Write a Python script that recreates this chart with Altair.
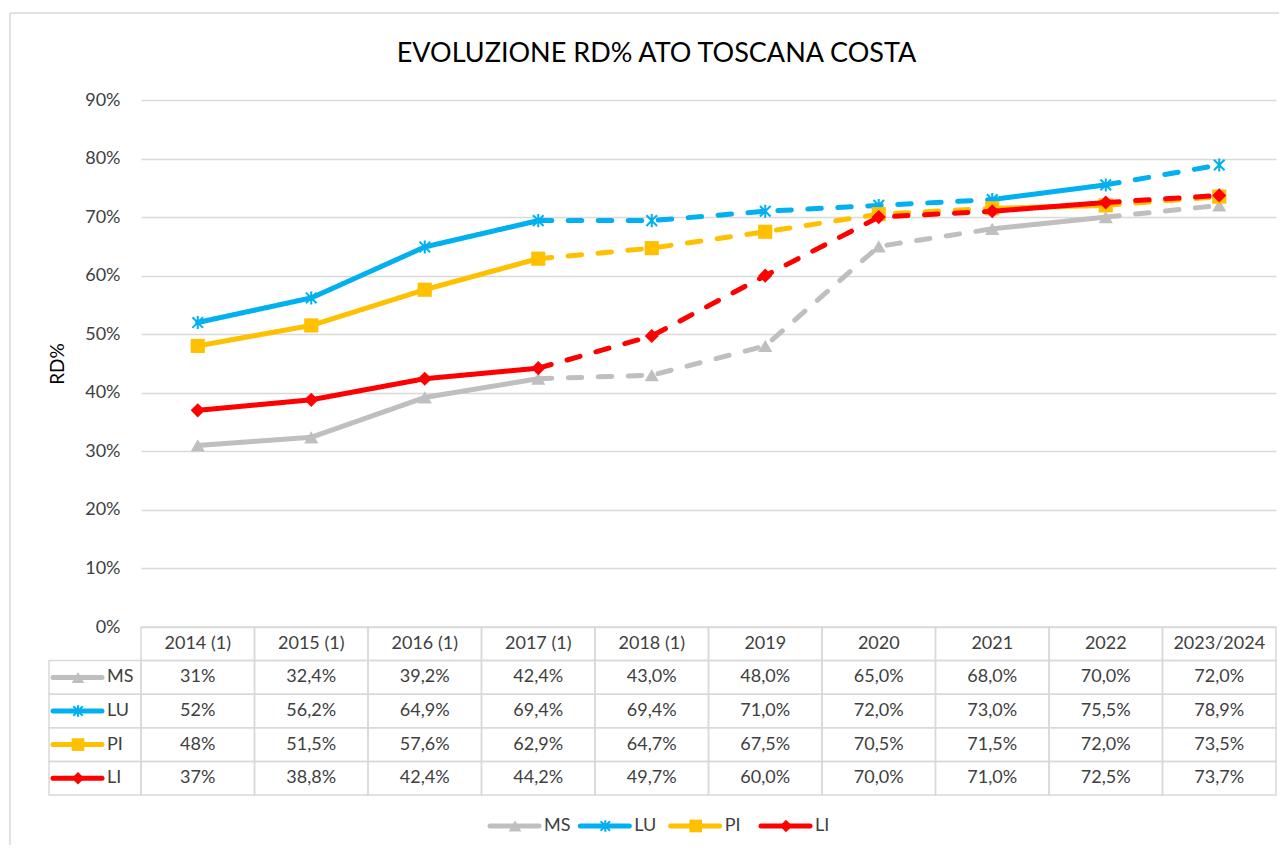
import altair as alt
import pandas as pd

# ---------------- data ----------------
CATEGORIES = ["2014 (1)", "2015 (1)", "2016 (1)", "2017 (1)", "2018 (1)",
              "2019", "2020", "2021", "2022", "2023/2024"]
SERIES = ["MS", "LU", "PI", "LI"]
MS = [31.0, 32.4, 39.2, 42.4, 43.0, 48.0, 65.0, 68.0, 70.0, 72.0]
LU = [52.0, 56.2, 64.9, 69.4, 69.4, 71.0, 72.0, 73.0, 75.5, 78.9]
PI = [48.0, 51.5, 57.6, 62.9, 64.7, 67.5, 70.5, 71.5, 72.0, 73.5]
LI = [37.0, 38.8, 42.4, 44.2, 49.7, 60.0, 70.0, 71.0, 72.5, 73.7]
Y_TICKS = [0, 10, 20, 30, 40, 50, 60, 70, 80, 90]
# line style of each interval between consecutive years
SEGMENT_STYLE = ["solid", "solid", "solid", "dashed", "dashed",
                 "dashed", "dashed", "solid", "dashed"]

VALUES = {"MS": MS, "LU": LU, "PI": PI, "LI": LI}

# ---------------- style ----------------
COLORS = ["#BFBFBF", "#00B0F0", "#FFC000", "#FF0000"]
ASTERISK = "M-0.9,-0.9L0.9,0.9M-0.9,0.9L0.9,-0.9M0,-1.1L0,1.1"
SHAPES = ["triangle-up", ASTERISK, "square", "diamond"]
FONT = "Lato"
GRID = "#D9D9D9"
TXT = "#404040"
W, H = 1135, 527

color_scale = alt.Scale(domain=SERIES, range=COLORS)
shape_scale = alt.Scale(domain=SERIES, range=SHAPES)
dash_scale = alt.Scale(domain=["solid", "dashed"], range=[[1, 0], [13.5, 16.5]])


def fmt(v, first):
    if first:
        return f"{v:.0f}%"
    return f"{v:.1f}%".replace(".", ",")


# runs of equal style
runs = []
start = 0
for i in range(1, len(SEGMENT_STYLE) + 1):
    if i == len(SEGMENT_STYLE) or SEGMENT_STYLE[i] != SEGMENT_STYLE[start]:
        runs.append((start, i, SEGMENT_STYLE[start]))
        start = i

line_rows = []
point_rows = []
for s in SERIES:
    vals = VALUES[s]
    for ri, (a, b, st) in enumerate(runs):
        for p in range(a, b + 1):
            line_rows.append({"series": s, "cat": CATEGORIES[p], "value": vals[p],
                              "seg": f"{s}-{ri}", "style": st})
    for p, c in enumerate(CATEGORIES):
        point_rows.append({"series": s, "cat": c, "value": vals[p]})
lines_df = pd.DataFrame(line_rows)
points_df = pd.DataFrame(point_rows)

x_enc = alt.X("cat:N", sort=None,
              scale=alt.Scale(type="point", domain=CATEGORIES, padding=0.5),
              axis=None)
y_enc = alt.Y("value:Q",
              scale=alt.Scale(domain=[0, 90], nice=False, zero=True),
              axis=alt.Axis(values=Y_TICKS, labelExpr="datum.value + '%'",
                            grid=True, gridColor=GRID, gridWidth=1.5,
                            domain=False, ticks=False,
                            labelFont=FONT, labelFontSize=18, labelColor=TXT,
                            labelPadding=21,
                            title="RD%", titleFont=FONT, titleFontSize=19,
                            titleFontWeight="normal", titleColor="#000000",
                            titlePadding=17))

layers = []
for s in SERIES:
    ln = alt.Chart(lines_df[lines_df.series == s]).mark_line(
        strokeWidth=5, strokeCap="round", strokeJoin="round").encode(
        x=x_enc, y=y_enc,
        color=alt.Color("series:N", scale=color_scale, legend=None),
        strokeDash=alt.StrokeDash("style:N", scale=dash_scale, legend=None),
        detail="seg:N")
    filled = s != "LU"
    pt = alt.Chart(points_df[points_df.series == s]).mark_point(
        filled=filled, opacity=1, size=200 if filled else 140,
        strokeWidth=2).encode(
        x=x_enc, y=y_enc,
        color=alt.Color("series:N", scale=color_scale, legend=None),
        shape=alt.Shape("series:N", scale=shape_scale, legend=None))
    layers += [ln, pt]

top = alt.layer(*layers).properties(
    width=W, height=H,
    title=alt.TitleParams("EVOLUZIONE RD% ATO TOSCANA COSTA", font=FONT,
                          fontSize=27, fontWeight="normal", color="#000000",
                          anchor="middle", frame="group", dx=-52,
                          baseline="alphabetic", offset=2))

# ---------------- data table ----------------
ROWS = ["header"] + SERIES
cell_rows = []
for r in ROWS:
    for i, c in enumerate(CATEGORIES):
        lab = c if r == "header" else fmt(VALUES[r][i], i == 0)
        cell_rows.append({"cat": c, "row": r, "label": lab})
cells_df = pd.DataFrame(cell_rows)
keys_df = pd.DataFrame({"series": SERIES, "row": SERIES, "col": ["key"] * 4})

x_band = alt.Scale(type="band", domain=CATEGORIES, paddingInner=0, paddingOuter=0)
y_band = alt.Scale(type="band", domain=ROWS, paddingInner=0, paddingOuter=0)
y_point = alt.Scale(type="point", domain=ROWS, padding=0.5)

# chart-area frame (left and top edges), drawn from the table panel
frame_df = pd.DataFrame({"k": [0]})
frame_v = alt.Chart(frame_df).mark_rule(color=GRID, strokeWidth=1.5).encode(
    x=alt.value(-131), y=alt.value(-614), y2=alt.value(218))
frame_h = alt.Chart(frame_df).mark_rule(color=GRID, strokeWidth=1.5).encode(
    x=alt.value(-131), x2=alt.value(1138), y=alt.value(-614))

cell_rect = alt.Chart(cells_df).mark_rect(
    fill="white", fillOpacity=0, stroke=GRID, strokeWidth=1.5).encode(
    x=alt.X("cat:N", scale=x_band, axis=None, sort=None),
    y=alt.Y("row:N", scale=y_band, axis=None, sort=None))
cell_text = alt.Chart(cells_df).mark_text(
    font=FONT, fontSize=18, color=TXT, baseline="middle").encode(
    x=alt.X("cat:N", scale=x_band, axis=None, sort=None),
    y=alt.Y("row:N", scale=y_point, axis=None, sort=None),
    text="label:N")

key_rect = alt.Chart(keys_df).mark_rect(
    fill="white", fillOpacity=0, stroke=GRID, strokeWidth=1.5).encode(
    x=alt.X("col:N", scale=alt.Scale(type="band", domain=["key"], range=[-92, 0],
                                     paddingInner=0, paddingOuter=0), axis=None),
    y=alt.Y("row:N", scale=y_band, axis=None, sort=None))

key_x = alt.Scale(type="point", domain=["key"], range=[-63, -63])


def key_layers(df, xfield, xscale, yfield, yscale):
    xe = alt.X(f"{xfield}:N", scale=xscale, axis=None, sort=None)
    ye = alt.Y(f"{yfield}:N", scale=yscale, axis=None, sort=None)
    rule = alt.Chart(df).mark_rule(strokeWidth=5, strokeCap="round",
                                   xOffset=-25, x2Offset=24).encode(
        x=xe, x2=alt.X2(f"{xfield}"), y=ye,
        color=alt.Color("series:N", scale=color_scale, legend=None))
    out = [rule]
    for s in SERIES:
        filled = s != "LU"
        out.append(alt.Chart(df[df.series == s]).mark_point(
            filled=filled, opacity=1, size=160 if filled else 110,
            strokeWidth=2).encode(
            x=xe, y=ye,
            color=alt.Color("series:N", scale=color_scale, legend=None),
            shape=alt.Shape("series:N", scale=shape_scale, legend=None)))
    lab = alt.Chart(df).mark_text(font=FONT, fontSize=18, color=TXT,
                                  align="left", baseline="middle", dx=29).encode(
        x=xe, y=ye, text="series:N")
    out.append(lab)
    return out


table = alt.layer(
    frame_v, frame_h, cell_rect, cell_text, key_rect,
    *key_layers(keys_df, "col", key_x, "row", y_point)
).resolve_scale(x="independent", y="independent").properties(width=W, height=168)

# ---------------- bottom legend ----------------
legend_df = pd.DataFrame({"series": SERIES, "pos": SERIES, "row": ["legend"] * 4})
leg_x = alt.Scale(type="point", domain=SERIES, range=[374, 645], padding=0)
leg_y = alt.Scale(type="point", domain=["legend"], align=0.62)
legend = alt.layer(
    *key_layers(legend_df, "pos", leg_x, "row", leg_y)
).resolve_scale(x="independent", y="independent").properties(width=W, height=50)

chart = alt.vconcat(top, table, legend, spacing=0, bounds="flush").properties(
    padding={"left": 1, "top": 4, "right": 0, "bottom": 0},
    background="white"
).configure_view(stroke=None)

chart.save("out.html", embed_options={"renderer": "svg", "actions": False})
